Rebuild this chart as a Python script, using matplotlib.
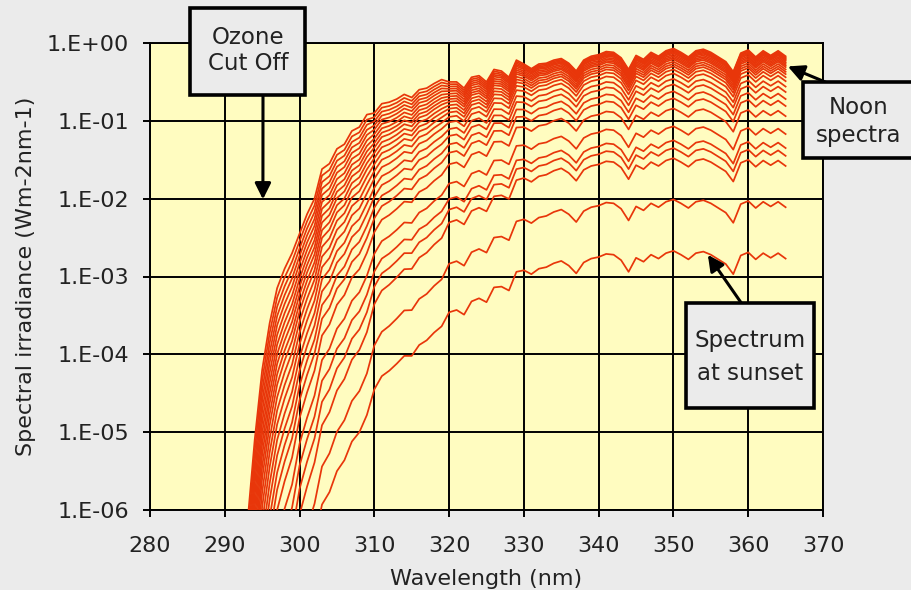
import numpy as np
import matplotlib
matplotlib.use("Agg")
import matplotlib.pyplot as plt
from matplotlib.patches import Rectangle

# wavelength grid (nm)
wavelength = np.arange(292, 366)

# noon spectrum, log10 irradiance read per nm (292..365)
noon_log = [
    -7.0, -6.2, -5.1, -4.2, -3.6, -3.15, -2.9, -2.7, -2.45, -2.2,      # 292-301
    -2.0, -1.62, -1.55, -1.36, -1.3, -1.13, -1.08, -0.92, -0.9, -0.78,  # 302-311
    -0.76, -0.72, -0.66, -0.7, -0.6, -0.58, -0.52, -0.47, -0.50, -0.50, # 312-321
    -0.58, -0.44, -0.42, -0.50, -0.34, -0.36, -0.44, -0.22, -0.27, -0.33,  # 322-331
    -0.27, -0.26, -0.22, -0.20, -0.26, -0.36, -0.22, -0.17, -0.15, -0.11,  # 332-341
    -0.12, -0.19, -0.34, -0.16, -0.21, -0.12, -0.17, -0.10, -0.07, -0.12,  # 342-351
    -0.18, -0.10, -0.08, -0.12, -0.18, -0.24, -0.37, -0.13, -0.09, -0.18,  # 352-361
    -0.10, -0.16, -0.10, -0.17,                                          # 362-365
]

# extra short-wave (ozone) loss in decades per unit uv factor; scan steps at 300/310/320/330
uv_loss = [
    3.7, 3.45, 3.2, 2.98, 2.78, 2.6, 2.45, 2.32, 2.0, 1.9,
    1.8, 1.71, 1.62, 1.54, 1.46, 1.39, 1.32, 1.26, 0.95, 0.9,
    0.85, 0.8, 0.76, 0.72, 0.68, 0.64, 0.6, 0.57, 0.36, 0.33,
    0.31, 0.28, 0.26, 0.23, 0.2, 0.17, 0.14, 0.12, 0.05, 0.04,
    0.03, 0.02, 0.01, 0, 0, 0, 0, 0, 0, 0,
    0, 0, 0, 0, 0, 0, 0, 0, 0, 0,
    0, 0, 0, 0, 0, 0, 0, 0, 0, 0,
    0, 0, 0, 0,
]

# each spectrum (noon -> sunset): grey loss (decades) and uv factor
grey_loss = [0.00, 0.015, 0.03, 0.045, 0.06, 0.08, 0.10, 0.12, 0.14, 0.17, 0.20, 0.23,
             0.27, 0.32, 0.39, 0.46, 0.55, 0.64, 0.77, 1.00, 1.18, 1.28, 1.41, 1.94, 2.60]
uv_factor = [0.00, 0.04, 0.08, 0.12, 0.16, 0.20, 0.24, 0.28, 0.32, 0.36, 0.40, 0.45,
             0.50, 0.55, 0.60, 0.65, 0.70, 0.75, 0.80, 0.85, 0.90, 1.00, 1.10, 1.10, 1.00]

y_ticks = [1e0, 1e-1, 1e-2, 1e-3, 1e-4, 1e-5, 1e-6]
y_tick_labels = ["1.E+00", "1.E-01", "1.E-02", "1.E-03", "1.E-04", "1.E-05", "1.E-06"]
x_ticks = list(range(280, 371, 10))

plt.rcParams["font.family"] = "DejaVu Sans"
W, H = 911, 590

fig = plt.figure(figsize=(W / 100, H / 100), dpi=100, facecolor="#EBEBEB")
ax = fig.add_axes([150 / W, 1 - 510 / H, 673 / W, 467 / H])
ax.set_facecolor("#FFFCC0")

noon = np.array(noon_log)
loss = np.array(uv_loss)
for g, u in zip(grey_loss, uv_factor):
    spec = 10 ** (noon - g - u * loss)
    ax.plot(wavelength, spec, color="#E8360A", lw=1.25, zorder=3)

ax.set_yscale("log")
ax.set_xlim(280, 370)
ax.set_ylim(1e-6, 1e0)
ax.set_xticks(x_ticks)
ax.set_yticks(y_ticks)
ax.set_yticklabels(y_tick_labels)
ax.minorticks_off()
ax.grid(True, color="black", lw=1.4, zorder=1)
ax.set_axisbelow(True)
for s in ax.spines.values():
    s.set_color("black")
    s.set_linewidth(1.4)
ax.tick_params(axis="both", direction="out", length=5, width=1.4, labelsize=16,
               colors="black", labelcolor="#222222")
ax.tick_params(axis="y", pad=10)
ax.tick_params(axis="x", pad=14)

ax.set_xlabel("Wavelength (nm)", fontsize=16, color="#222222", labelpad=9)
ax.set_ylabel("Spectral irradiance (Wm-2nm-1)", fontsize=16, color="#222222", labelpad=8)

arrow = dict(arrowstyle="-|>", mutation_scale=24, lw=2.2, color="black",
             shrinkA=0, shrinkB=0)


def fx(px):
    return px / W


def fy(py):
    return 1 - py / H


def note_box(x0, y0, x1, y1, lines, line_y, cx):
    fig.patches.append(Rectangle((fx(x0), fy(y1)), fx(x1 - x0), (y1 - y0) / H,
                                 transform=fig.transFigure, facecolor="#EBEBEB",
                                 edgecolor="black", lw=2.6, zorder=6))
    for t, ly in zip(lines, line_y):
        fig.text(fx(cx), fy(ly), t, ha="center", va="center", fontsize=16.5,
                 color="#222222", zorder=7)


# Ozone cut off
ax.annotate("", xy=(295.1, 0.0098), xycoords="data",
            xytext=(fx(263), fy(95)), textcoords="figure fraction",
            arrowprops=arrow, zorder=5, annotation_clip=False)
note_box(190, 8, 305, 95, ["Ozone", "Cut Off"], [38, 64], 248)

# Noon spectra
ax.annotate("", xy=(365.3, 0.5), xycoords="data",
            xytext=(fx(830), fy(84)), textcoords="figure fraction",
            arrowprops=arrow, zorder=5, annotation_clip=False)
note_box(803, 82, 918, 158, ["Noon", "spectra"], [108, 135], 859)

# Spectrum at sunset
ax.annotate("", xy=(354.6, 0.0019), xycoords="data",
            xytext=(fx(742), fy(304)), textcoords="figure fraction",
            arrowprops=arrow, zorder=5, annotation_clip=False)
note_box(686, 303, 814, 408, ["Spectrum", "at sunset"], [341, 374], 750)

fig.savefig("out.png", dpi=100, facecolor=fig.get_facecolor())
